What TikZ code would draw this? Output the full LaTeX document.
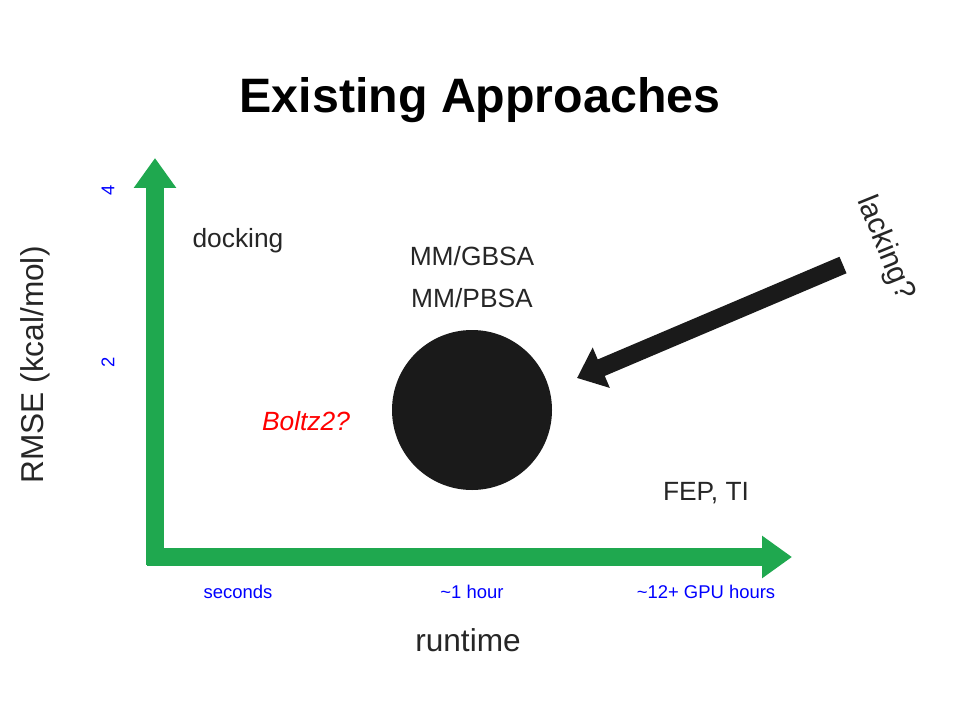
\documentclass[tikz,border=0pt]{standalone}
\usepackage{fontspec}
\setmainfont{Liberation Sans}
\usetikzlibrary{arrows.meta}
\definecolor{axisgreen}{HTML}{1FA84F}
\definecolor{dotblack}{HTML}{1A1A1A}
\tikzstyle{axis} = [draw=axisgreen, line width=10.2pt, -{Triangle[width=23pt,length=17pt]}]
\tikzstyle{tick} = [text=blue, font=\fontsize{10.5}{12}\selectfont]
\tikzstyle{method} = [text=black!85, font=\fontsize{15}{18}\selectfont]

\begin{document}
\begin{tikzpicture}[x=0.02cm, y=-0.02cm]
		\useasboundingbox (0,0) rectangle (960,720);
		\node (title) at (480,100) {\fontsize{27.5}{32}\selectfont\bfseries Existing Approaches};
		
		\coordinate (origin) at (155,565);
		\coordinate (ytip) at (155,158);
		\coordinate (xstart) at (147,557);
		\coordinate (xtip) at (792,557);
		\draw [axis] (origin) -- (ytip);
		\draw [axis] (xstart) -- (xtip);
		
		\node (y4) [tick, rotate=90] at (108,190) {4};
		\node (y2) [tick, rotate=90] at (108,362) {2};
		\node (xsec) [tick] at (238,592) {seconds};
		\node (xhour) [tick] at (472,592) {\textasciitilde1 hour};
		\node (xgpu) [tick] at (706,592) {\textasciitilde12+ GPU hours};
		
		\node (ylabel) [rotate=90, text=black!85] at (35,365) {\fontsize{18}{21}\selectfont RMSE (kcal/mol)};
		\node (xlabel) [text=black!85] at (468,640) {\fontsize{18}{21}\selectfont runtime};
		
		\node (docking) [method] at (238,241) {docking};
		\node (gbsa) [method] at (472,256) {MM/GBSA};
		\node (pbsa) [method] at (472,298) {MM/PBSA};
		\node (fep) [method] at (706,493) {FEP, TI};
		\node (boltz) [text=red, font=\fontsize{15}{18}\selectfont\itshape] at (306,421) {Boltz2?};
		
		\node (blob) [circle, fill=dotblack, minimum size=160*0.02cm] at (472,410) {};
		
		\coordinate (lackstart) at (843,265);
		\coordinate (lacktip) at (577,378);
		\draw [draw=dotblack, line width=10.2pt, -{Triangle[width=24pt,length=15pt]}] (lackstart) -- (lacktip);
		\node (lacking) [rotate=-68, text=black!85, inner sep=0pt] at (885,248) {\fontsize{17}{20}\selectfont lacking?};
	\end{tikzpicture}
\end{document}
